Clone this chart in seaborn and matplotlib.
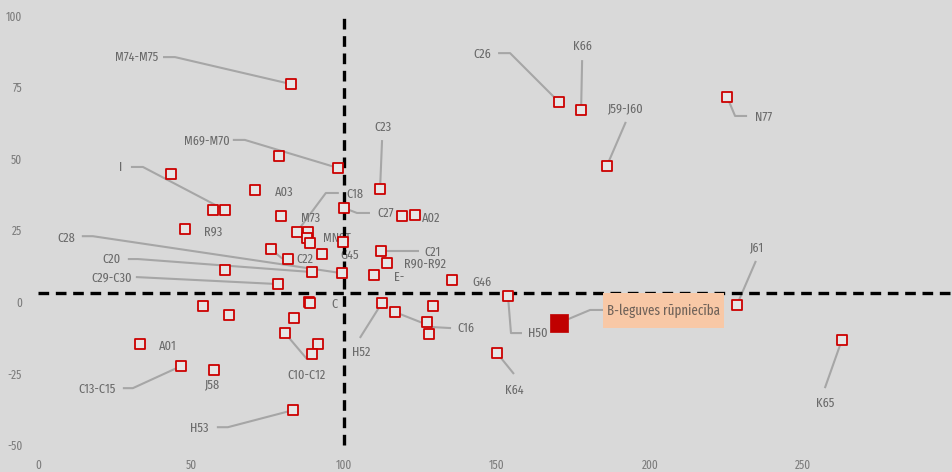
import matplotlib
matplotlib.use("Agg")
import matplotlib.pyplot as plt
from matplotlib.patches import Rectangle
import seaborn as sns
import pandas as pd

# ---------------- data ----------------
codes = ["M74-M75", "", "M69-M70", "", "A03", "", "I", "", "R93", "C23",
         "C27", "", "A02", "MNST", "C21", "R90-R92", "E-", "C28", "G46", "H50",
         "C26", "K66", "J59-J60", "N77", "J61", "K65", "K64", "H52", "C16", "",
         "", "", "C18", "M73", "", "", "G45", "C22", "", "",
         "C20", "C29-C30", "", "", "C", "", "", "C10-C12", "", "",
         "A01", "C13-C15", "J58", "H53"]
x_vals = [82.7, 78.8, 98.0, 43.5, 70.9, 57.2, 61.1, 79.4, 48.0, 111.8,
          100.0, 119.0, 123.2, 99.7, 112.1, 114.1, 109.8, 99.3, 135.3, 153.6,
          170.3, 177.5, 185.9, 225.2, 228.4, 262.7, 150.0, 112.4, 116.7, 129.1,
          127.1, 127.8, 84.6, 88.2, 87.9, 88.9, 92.8, 76.1, 81.7, 61.1,
          89.5, 78.4, 53.9, 62.4, 88.6, 88.9, 83.7, 80.7, 91.5, 89.5,
          33.3, 46.7, 57.5, 83.3]
y_vals = [76.2, 51.0, 46.9, 44.8, 39.2, 32.2, 32.2, 30.1, 25.5, 39.5,
          32.9, 30.1, 30.4, 21.0, 17.8, 13.6, 9.4, 10.1, 7.7, 2.1,
          69.9, 67.1, 47.6, 71.7, -1.0, -13.3, -17.8, -0.3, -3.5, -1.4,
          -7.0, -11.2, 24.5, 24.5, 22.4, 20.6, 16.8, 18.5, 15.0, 11.2,
          10.5, 6.3, -1.4, -4.5, 0.0, -0.3, -5.6, -10.8, -14.7, -18.2,
          -14.7, -22.4, -23.8, -37.8]

highlight_name = "B-leguves rūpniecība"
highlight_x = [170.3]
highlight_y = [-7.3]

x_ref = 100
y_ref = 3.1
x_ticks = [0, 50, 100, 150, 200, 250, 300]
y_ticks = [-50, -25, 0, 25, 50, 75, 100]

# label layout: offsets in image pixels (dx right, dy down) from the point
label_layout = {
    "M74-M75": ((-154, -27), [(-116, -27), (-128, -27)]),
    "M69-M70": ((-131, -27), [(-93, -28), (-105, -28)]),
    "I": ((-104, -43), [(-82, -43), (-94, -43)]),
    "A03": ((29, 2), None),
    "R93": ((28, 3), None),
    "C23": ((3, -62), [(2, -49)]),
    "C27": ((42, 5), [(13, 5), (26, 5)]),
    "C18": ((58, -38), [(29, -39), (42, -39)]),
    "A02": ((16, 3), None),
    "MNST": ((-6, -4), None),
    "G45": ((28, 1), None),
    "M73": ((3, -14), None),
    "C21": ((52, 1), [(38, 0)]),
    "R90-R92": ((38, 1), None),
    "E-": ((25, 2), None),
    "G46": ((30, 2), None),
    "H50": ((30, 37), [(3, 37), (14, 37)]),
    "C26": ((-77, -48), [(-49, -49), (-61, -49)]),
    "K66": ((1, -64), [(1, -50)]),
    "J59-J60": ((18, -57), [(19, -44)]),
    "N77": ((36, 20), [(8, 19), (20, 19)]),
    "J61": ((19, -57), [(19, -44)]),
    "K65": ((-17, 63), [(-17, 48)]),
    "K64": ((17, 37), [(17, 21)]),
    "H52": ((-21, 49), [(-22, 35)]),
    "C16": ((71, 16), [(38, 15), (56, 16)]),
    "C": ((25, 2), None),
    "C10-C12": ((22, 42), [(22, 26)]),
    "A01": ((28, 2), None),
    "C13-C15": ((-84, 23), [(-48, 22), (-58, 22)]),
    "J58": ((-2, 14), None),
    "H53": ((-94, 18), [(-65, 17), (-76, 17)]),
    "C28": ((-276, -35), [(-249, -37), (-260, -37)]),
    "C20": ((-200, -13), [(-174, -13), (-184, -13)]),
    "C29-C30": ((-166, -6), [(-142, -7)]),
    "C22": ((34, 10), [(11, 9), (21, 10)]),
}
# box: left, top, right, bottom offsets (pixels) and leader
highlight_box = (44, -30, 165, 5)
highlight_leader = [(31, -13), (44, -13)]

# ---------------- style ----------------
bg = "#d9d9d9"
sns.set_style("white", {"axes.facecolor": bg, "figure.facecolor": bg})
plt.rcParams["font.family"] = ["Fira Sans Extra Condensed", "Barlow Condensed",
                               "Asap Condensed", "Archivo Narrow", "DejaVu Sans"]

fig = plt.figure(figsize=(9.52, 4.72), dpi=100)
ax = fig.add_axes([0, 0, 1, 1])
ax.set_facecolor(bg)

xlim = (-12.4, 298.7)
ylim = (-59.4, 105.6)
ax.set_xlim(*xlim)
ax.set_ylim(*ylim)

df = pd.DataFrame({"code": codes, "x": x_vals, "y": y_vals})
hdf = pd.DataFrame({"code": [highlight_name], "x": highlight_x, "y": highlight_y})

# reference lines
ax.axvline(x_ref, ymin=(-50 - ylim[0]) / (ylim[1] - ylim[0]),
           ymax=(100 - ylim[0]) / (ylim[1] - ylim[0]),
           color="black", lw=2.4, ls=(0, (3.2, 2.0)), zorder=3)
ax.axhline(y_ref, xmin=(0 - xlim[0]) / (xlim[1] - xlim[0]), xmax=1,
           color="black", lw=2.4, ls=(0, (3.2, 2.0)), zorder=3)

sns.scatterplot(data=df, x="x", y="y", marker="s", s=62,
                facecolor="#e6e6e6", edgecolor="#cc0000", linewidth=1.3,
                ax=ax, zorder=4, legend=False)
sns.scatterplot(data=hdf, x="x", y="y", marker="s", s=150,
                color="#c00000", edgecolor="#c00000", linewidth=0.5,
                ax=ax, zorder=4, legend=False)

fig.canvas.draw()
to_disp = ax.transData.transform
to_data = ax.transData.inverted().transform


def off(px, py, dx, dy):
    d = to_disp((px, py))
    return to_data((d[0] + dx, d[1] - dy))


line_kw = dict(color="#a6a6a6", lw=1.5, zorder=2, solid_capstyle="butt")
text_kw = dict(color="#6a6a6a", fontsize=9.6, ha="center", va="center", zorder=2)

for c, xv, yv in zip(codes, x_vals, y_vals):
    if not c or c not in label_layout:
        continue
    (tdx, tdy), verts = label_layout[c]
    tx, ty = off(xv, yv, tdx, tdy)
    ax.text(tx, ty, c, **text_kw)
    if verts:
        pts = [(xv, yv)] + [tuple(off(xv, yv, dx, dy)) for dx, dy in verts]
        xs, ys = zip(*pts)
        ax.plot(xs, ys, **line_kw)

hx, hy = highlight_x[0], highlight_y[0]
pts = [(hx, hy)] + [tuple(off(hx, hy, dx, dy)) for dx, dy in highlight_leader]
xs, ys = zip(*pts)
ax.plot(xs, ys, **line_kw)
l, t, r, b = highlight_box
x0, y0 = off(hx, hy, l, b)
x1, y1 = off(hx, hy, r, t)
ax.add_patch(Rectangle((x0, y0), x1 - x0, y1 - y0, facecolor="#f8c8a6",
                       edgecolor="none", zorder=5))
ax.text((x0 + x1) / 2, (y0 + y1) / 2, highlight_name, color="#6f6259",
        fontsize=10.2, ha="center", va="center", zorder=6)

# ticks
ax.set_xticks(x_ticks)
ax.set_yticks(y_ticks)
ax.set_xticklabels([str(t) for t in x_ticks])
ax.set_yticklabels([str(t) for t in y_ticks])
ax.tick_params(axis="x", length=0, pad=-9, labelsize=8.8, labelcolor="#7c7c7c")
ax.tick_params(axis="y", length=0, pad=-16, labelsize=8.8, labelcolor="#7c7c7c")
for lab in ax.get_yticklabels():
    lab.set_horizontalalignment("right")
ax.set_xlim(*xlim)
ax.set_xlabel("")
ax.set_ylabel("")
for sp in ax.spines.values():
    sp.set_visible(False)

fig.savefig("out.png", dpi=100, facecolor=bg)
